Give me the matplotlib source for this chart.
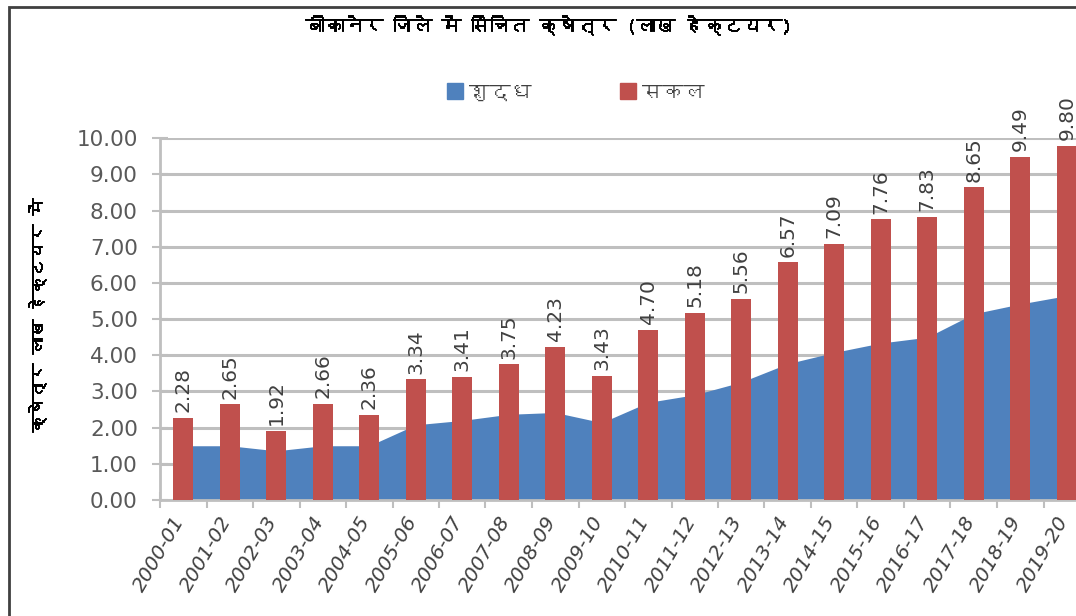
import matplotlib
matplotlib.use("Agg")
import matplotlib.pyplot as plt
import matplotlib.patheffects as pe
from matplotlib import font_manager
from matplotlib.ft2font import FT2Font
from matplotlib.patches import Rectangle
from matplotlib.transforms import ScaledTranslation
import numpy as np

# ---- data (lakh hectare) ----
years = ["2000-01", "2001-02", "2002-03", "2003-04", "2004-05", "2005-06",
         "2006-07", "2007-08", "2008-09", "2009-10", "2010-11", "2011-12",
         "2012-13", "2013-14", "2014-15", "2015-16", "2016-17", "2017-18",
         "2018-19", "2019-20"]
gross = [2.28, 2.65, 1.92, 2.66, 2.36, 3.34, 3.41, 3.75, 4.23, 3.43,
         4.70, 5.18, 5.56, 6.57, 7.09, 7.76, 7.83, 8.65, 9.49, 9.80]
net = [1.50, 1.50, 1.36, 1.50, 1.50, 2.08, 2.20, 2.37, 2.42, 2.14,
       2.70, 2.91, 3.26, 3.77, 4.08, 4.34, 4.50, 5.15, 5.42, 5.65]
y_ticks = [0, 1, 2, 3, 4, 5, 6, 7, 8, 9, 10]

title = "बीकानेर जिले में सिंचित क्षेत्र (लाख हेक्टयर)"
ylabel = "क्षेत्र लाख हेक्टयर में"
net_name = "शुद्ध"
gross_name = "सकल"

BLUE = "#4F81BD"
RED = "#C0504D"
GRID = "#BFBFBF"


def family_with(ch):
    """Return the name of an installed family that has a glyph for ch."""
    for fe in font_manager.fontManager.ttflist:
        try:
            if ord(ch) in FT2Font(fe.fname).get_charmap():
                return fe.name
        except Exception:
            continue
    return None


deva = family_with("क")
hindi_fonts = ([deva] if deva else []) + ["DejaVu Sans"]
plt.rcParams["font.family"] = ["DejaVu Sans"]
heavy = [pe.withStroke(linewidth=0.7, foreground="black")]

fig = plt.figure(figsize=(10.76, 6.16), dpi=100)
W, H = 1076.0, 616.0
left, right, top, bottom = 160, 1090, 138.3, 500
ax = fig.add_axes([left / W, (H - bottom) / H, (right - left) / W, (bottom - top) / H])

x = np.arange(len(years))
ax.fill_between(x, net, 0, color=BLUE, linewidth=0, zorder=2)
ax.bar(x, gross, width=0.42, color=RED, linewidth=0, zorder=3)

for xi, v in zip(x, gross):
    ax.annotate(f"{v:.2f}", (xi, v), xytext=(0, 4), textcoords="offset points",
                rotation=90, ha="center", va="bottom", fontsize=14.5,
                color="#404040", zorder=4)

ax.set_xlim(-0.5, len(years) - 0.5)
ax.set_ylim(0, 10)
ax.set_yticks(y_ticks)
ax.set_yticklabels([f"{t:.2f}" for t in y_ticks], fontsize=15.5, color="#595959")
ax.yaxis.grid(True, color=GRID, linewidth=2.2, zorder=0)
ax.set_axisbelow(True)

# tick marks sit between categories; year labels hang under each bar
ax.set_xticks(np.arange(-0.5, len(years), 1.0))
ax.set_xticklabels([])
ax.tick_params(axis="x", direction="inout", length=12, width=1.5, color=GRID)
ax.tick_params(axis="y", direction="inout", length=12, width=1.5,
               color=GRID, pad=10)
label_tf = ax.get_xaxis_transform() + ScaledTranslation(-0.11, -0.13,
                                                        fig.dpi_scale_trans)
for xi, yr in zip(x, years):
    ax.text(xi, 0, yr, transform=label_tf, rotation=60, ha="right", va="top",
            rotation_mode="anchor", fontsize=14.5, color="#404040",
            style="italic", clip_on=False)

for s in ("top", "right"):
    ax.spines[s].set_visible(False)
for s in ("left", "bottom"):
    ax.spines[s].set_color(GRID)
    ax.spines[s].set_linewidth(2)

# outer chart border
fig.patches.append(Rectangle((9 / W, -0.1), 1.2, (H - 7) / H + 0.1,
                             transform=fig.transFigure, fill=False,
                             edgecolor="#404040", linewidth=2))

fig.text(549 / W, 1 - 25 / H, title, ha="center", va="center", fontsize=14,
         fontweight="bold", family=hindi_fonts, color="black",
         path_effects=heavy)
fig.text(37 / W, 1 - 315 / H, ylabel, ha="center", va="center", rotation=90,
         fontsize=12.5, fontweight="bold", family=hindi_fonts, color="black",
         path_effects=heavy)

# legend
fig.patches.append(Rectangle((447 / W, 1 - 99 / H), 16 / W, 16 / H,
                             transform=fig.transFigure, color=BLUE))
fig.text(469 / W, 1 - 93 / H, net_name, ha="left", va="center", fontsize=15,
         family=hindi_fonts, color="#404040")
fig.patches.append(Rectangle((620 / W, 1 - 99 / H), 16 / W, 16 / H,
                             transform=fig.transFigure, color=RED))
fig.text(642 / W, 1 - 93 / H, gross_name, ha="left", va="center", fontsize=15,
         family=hindi_fonts, color="#404040")

fig.savefig("out.png", dpi=100)
